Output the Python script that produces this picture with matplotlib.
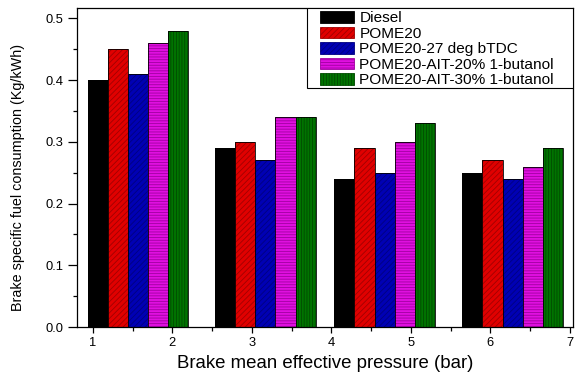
import matplotlib
matplotlib.use("Agg")
import matplotlib.pyplot as plt
from matplotlib.ticker import MultipleLocator
from matplotlib.patches import Patch, Rectangle
import numpy as np

plt.rcParams['font.family'] = ['Liberation Sans', 'DejaVu Sans']
plt.rcParams['hatch.linewidth'] = 0.6

# group centres on the x axis (bar)
centers = [1.57, 3.17, 4.67, 6.28]
labels = ["Diesel", "POME20", "POME20-27 deg bTDC",
          "POME20-AIT-20% 1-butanol", "POME20-AIT-30% 1-butanol"]
diesel = [0.40, 0.29, 0.24, 0.25]
pome20 = [0.45, 0.30, 0.29, 0.27]
pome20_27 = [0.41, 0.27, 0.25, 0.24]
ait20 = [0.46, 0.34, 0.30, 0.26]
ait30 = [0.48, 0.34, 0.33, 0.29]

series = [diesel, pome20, pome20_27, ait20, ait30]
colors = ["#000000", "#e00000", "#0000b4", "#e010e0", "#007400"]
hatch_colors = ["#000000", "#a00000", "#000080", "#a000a0", "#004a00"]
hatches = [None, "//////", "//////", "------", "||||||"]

fig = plt.figure(figsize=(5.78, 3.77), dpi=100)
ax = fig.add_axes([0.1332, 0.1326, 0.8581, 0.8462])

w = 0.253
x = np.array(centers)
for i, vals in enumerate(series):
    pos = x + (i - 2) * w
    ax.bar(pos, vals, w, color=colors[i], hatch=hatches[i],
           edgecolor=hatch_colors[i], linewidth=0)
    ax.bar(pos, vals, w, facecolor="none", edgecolor="black", linewidth=0.6)

# legend proxies
proxies = []
for i in range(5):
    proxies.append(Patch(facecolor=colors[i], edgecolor=hatch_colors[i],
                         hatch=hatches[i], linewidth=0.6))
ax.legend(proxies, labels, loc="upper left", bbox_to_anchor=(0.49, 0.99),
          fontsize=11.1, frameon=False,
          handlelength=2.2, handleheight=0.8, handletextpad=0.35,
          labelspacing=0.08, borderaxespad=0.0, borderpad=0.0)
ax.add_patch(Rectangle((0.4637, 0.749), 1 - 0.4637, 0.251, transform=ax.transAxes,
                       facecolor="white", edgecolor="black", linewidth=0.8, zorder=4.9))

ax.set_xlim(0.8, 7.04)
ax.set_ylim(0, 0.517)
ax.xaxis.set_major_locator(MultipleLocator(1))
ax.xaxis.set_minor_locator(MultipleLocator(0.5))
ax.yaxis.set_minor_locator(MultipleLocator(0.05))
ax.set_yticks([0, 0.1, 0.2, 0.3, 0.4, 0.5])
ax.set_yticklabels(["0.0", "0.1", "0.2", "0.3", "0.4", "0.5"])
ax.tick_params(which="major", direction="out", width=0.9, labelsize=9.3, pad=3.5)
ax.tick_params(axis="y", which="major", length=6.5)
ax.tick_params(axis="x", which="major", length=4)
ax.tick_params(which="minor", direction="out", length=3, width=0.9)
for s in ax.spines.values():
    s.set_linewidth(0.9)

ax.set_xlabel("Brake mean effective pressure (bar)", fontsize=13.4)
ax.set_ylabel("Brake specific fuel consumption (Kg/kWh)", fontsize=10.4)
ax.yaxis.set_label_coords(-0.105, 0.47)

fig.savefig("out.png", dpi=100)
